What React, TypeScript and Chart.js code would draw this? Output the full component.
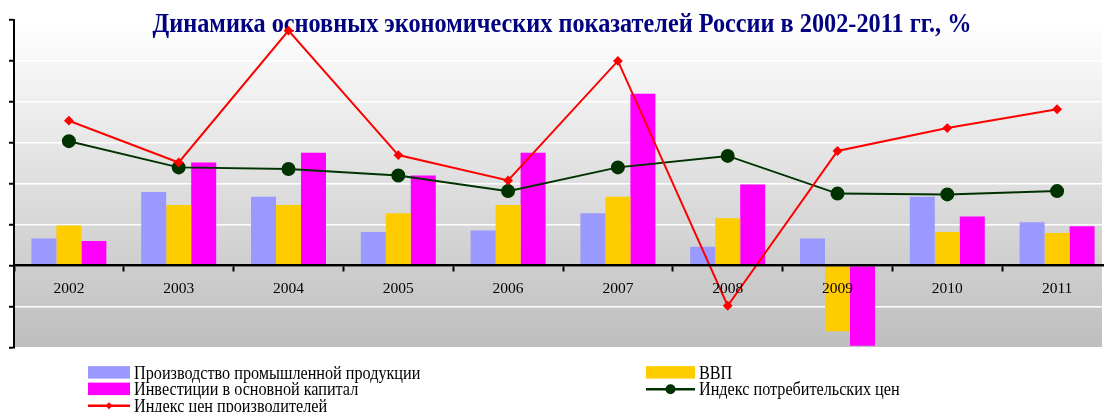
import { useEffect, useRef } from "react";
import { Chart, registerables } from "chart.js";

Chart.register(...registerables);

const years = ["2002", "2003", "2004", "2005", "2006", "2007", "2008", "2009", "2010", "2011"];
const industrial = [3.3, 9.0, 8.4, 4.1, 4.3, 6.4, 2.3, 3.3, 8.4, 5.3];
const gdp = [4.9, 7.4, 7.4, 6.4, 7.4, 8.4, 5.8, -8.0, 4.1, 4.0];
const investment = [3.0, 12.6, 13.8, 11.0, 13.8, 21.0, 9.9, -9.8, 6.0, 4.8];
const cpi = [15.2, 12.0, 11.8, 11.0, 9.1, 12.0, 13.4, 8.8, 8.7, 9.1];
const ppi = [17.7, 12.6, 28.7, 13.5, 10.4, 25.0, -4.9, 14.0, 16.8, 19.1];

const seriesLabels = [
  "Производство промышленной продукции",
  "ВВП",
  "Инвестиции в основной капитал",
  "Индекс потребительских цен",
  "Индекс цен производителей",
];
const titleText = "Динамика основных экономических показателей России в 2002-2011 гг., %";
const yMin = -10;
const yMax = 30;
const yStep = 5;

const SERIF = '"Liberation Serif", "Times New Roman", serif';

const backgroundPlugin = {
  id: "plotBackground",
  beforeDraw(chart: any) {
    const { ctx, chartArea: a } = chart;
    const g = ctx.createLinearGradient(0, a.top, 0, a.bottom);
    g.addColorStop(0, "#ffffff");
    g.addColorStop(1, "#bebebe");
    ctx.save();
    ctx.fillStyle = g;
    ctx.fillRect(a.left, a.top, Math.min(a.right, 1102) - a.left, a.bottom - a.top);
    ctx.restore();
  },
};

const titlePlugin = {
  id: "overlayTitle",
  beforeDatasetsDraw(chart: any) {
    const { ctx } = chart;
    ctx.save();
    let size = 24;
    ctx.font = `bold ${size}px ${SERIF}`;
    const w = ctx.measureText(titleText).width;
    size = (size * 819) / w;
    ctx.font = `bold ${size}px ${SERIF}`;
    ctx.fillStyle = "#000080";
    ctx.textAlign = "center";
    ctx.textBaseline = "alphabetic";
    ctx.translate(562, 31.5);
    ctx.scale(1, 1.1);
    ctx.fillText(titleText, 0, 0);
    ctx.restore();
  },
};

const legendCols = [
  { swX: 88, swW: 42, textX: 134 },
  { swX: 646, swW: 49, textX: 699 },
];
const legendBaselines = [378.8, 395.3, 411.8];

const legendPlugin = {
  id: "customLegend",
  afterDraw(chart: any) {
    const { ctx } = chart;
    const ds = chart.data.datasets;
    ctx.save();
    ds.forEach((d: any, i: number) => {
      const col = legendCols[i % 2];
      const base = legendBaselines[Math.floor(i / 2)];
      if (d.type === "line") {
        const cy = base - 6;
        ctx.strokeStyle = d.borderColor;
        ctx.lineWidth = 2.5;
        ctx.beginPath();
        ctx.moveTo(col.swX, cy);
        ctx.lineTo(col.swX + col.swW, cy);
        ctx.stroke();
        const cx = col.swX + col.swW / 2;
        ctx.fillStyle = d.pointBackgroundColor;
        ctx.beginPath();
        if (d.pointStyle === "circle") {
          ctx.arc(cx, cy, 5, 0, Math.PI * 2);
        } else {
          ctx.moveTo(cx, cy - 3.5);
          ctx.lineTo(cx + 3.5, cy);
          ctx.lineTo(cx, cy + 3.5);
          ctx.lineTo(cx - 3.5, cy);
          ctx.closePath();
        }
        ctx.fill();
      } else {
        ctx.fillStyle = d.backgroundColor;
        ctx.fillRect(col.swX, base - 12.7, col.swW, 12.5);
      }
      ctx.fillStyle = "#000000";
      ctx.font = `16.2px ${SERIF}`;
      ctx.textAlign = "left";
      ctx.textBaseline = "alphabetic";
      ctx.save();
      ctx.translate(col.textX, base);
      ctx.scale(1, 1.18);
      ctx.fillText(d.label, 0, 0);
      ctx.restore();
    });
    ctx.restore();
  },
};

export default function App() {
  const canvasRef = useRef<HTMLCanvasElement | null>(null);

  useEffect(() => {
    const canvas = canvasRef.current;
    if (!canvas) return;
    const chart = new Chart(canvas, {
      type: "bar",
      data: {
        labels: years,
        datasets: [
          {
            type: "bar",
            label: seriesLabels[0],
            data: industrial,
            backgroundColor: "#9999ff",
            borderWidth: 0,
            order: 2,
          },
          {
            type: "bar",
            label: seriesLabels[1],
            data: gdp,
            backgroundColor: "#ffcc00",
            borderWidth: 0,
            order: 2,
          },
          {
            type: "bar",
            label: seriesLabels[2],
            data: investment,
            backgroundColor: "#ff00ff",
            borderWidth: 0,
            order: 2,
          },
          {
            type: "line",
            label: seriesLabels[3],
            data: cpi,
            borderColor: "#003300",
            backgroundColor: "#003300",
            pointBackgroundColor: "#003300",
            pointBorderColor: "#003300",
            pointStyle: "circle",
            pointRadius: 6,
            borderWidth: 2,
            tension: 0,
            fill: false,
            order: 1,
          } as any,
          {
            type: "line",
            label: seriesLabels[4],
            data: ppi,
            borderColor: "#ff0000",
            backgroundColor: "#ff0000",
            pointBackgroundColor: "#ff0000",
            pointBorderColor: "#ff0000",
            pointStyle: "rectRot",
            pointRadius: 3.5,
            borderWidth: 2,
            tension: 0,
            fill: false,
            order: 0,
          } as any,
        ],
      },
      options: {
        responsive: false,
        animation: false,
        events: [],
        layout: { padding: { left: 9, right: 8, top: 20, bottom: 64.5 } },
        datasets: {
          bar: { categoryPercentage: 0.683, barPercentage: 1 },
        },
        plugins: {
          legend: { display: false },
          title: { display: false },
          tooltip: { enabled: false },
        },
        scales: {
          x: {
            type: "category",
            position: { y: 0 } as any,
            offset: true,
            grid: {
              display: true,
              drawOnChartArea: false,
              drawTicks: true,
              tickLength: 5,
              tickColor: "#000000",
              tickWidth: 2,
              offset: true,
              z: 1,
            },
            border: { display: true, color: "#000000", width: 2.5, z: 1 },
            ticks: {
              color: "#000000",
              font: { family: SERIF, size: 15.5 },
              padding: 9,
              maxRotation: 0,
              autoSkip: false,
              z: 1,
            },
          } as any,
          y: {
            type: "linear",
            position: "left",
            min: yMin,
            max: yMax,
            ticks: { display: false, stepSize: yStep },
            grid: {
              color: "#ffffff",
              lineWidth: 1.5,
              drawTicks: true,
              tickLength: 5,
              tickColor: "#000000",
              tickWidth: 2,
            },
            border: { display: true, color: "#000000", width: 2 },
          },
        },
      },
      plugins: [backgroundPlugin, titlePlugin, legendPlugin],
    });
    return () => chart.destroy();
  }, []);

  return (
    <div
      style={{
        position: "absolute",
        left: 0,
        top: 0,
        width: 1104,
        height: 412,
        overflow: "hidden",
        background: "#ffffff",
      }}
    >
      <canvas ref={canvasRef} width={1120} height={412} style={{ display: "block", width: 1120, height: 412 }} />
    </div>
  );
}
